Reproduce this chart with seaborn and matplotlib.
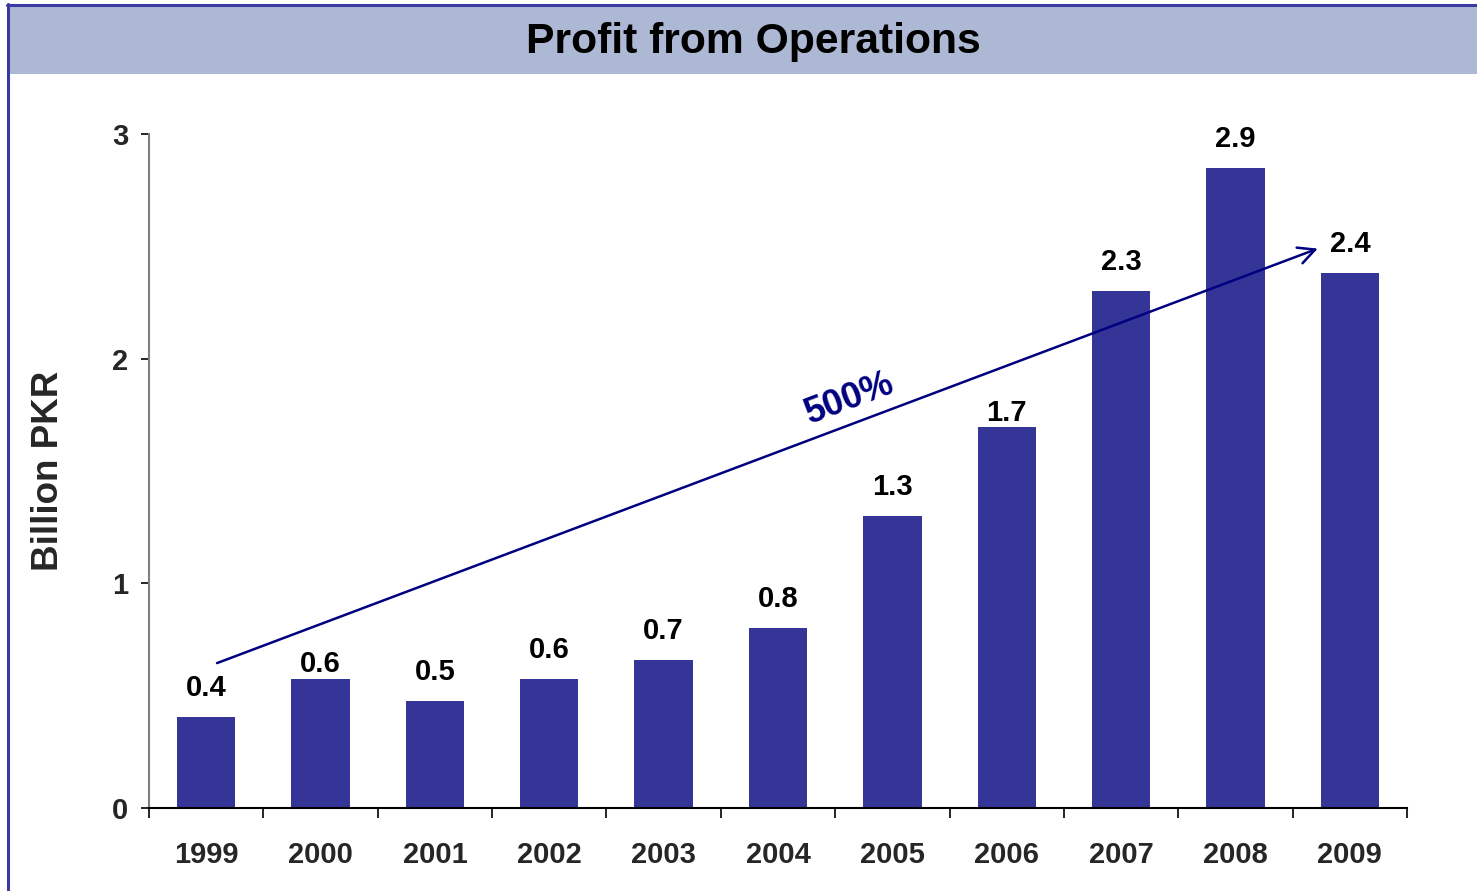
import matplotlib
matplotlib.use("Agg")
import matplotlib.pyplot as plt
import seaborn as sns
import pandas as pd
from matplotlib.patches import Rectangle
from matplotlib.lines import Line2D
from matplotlib.ticker import FixedLocator

# ---- data ----
years = ["1999", "2000", "2001", "2002", "2003", "2004", "2005", "2006", "2007", "2008", "2009"]
profit = [0.405, 0.574, 0.476, 0.574, 0.659, 0.80, 1.30, 1.696, 2.30, 2.848, 2.381]
value_labels = ["0.4", "0.6", "0.5", "0.6", "0.7", "0.8", "1.3", "1.7", "2.3", "2.9", "2.4"]
label_offsets_pt = [21, 11, 21, 21, 21, 21, 21, 10, 21, 21, 21]
y_ticks = [0, 1, 2, 3]
title_text = "Profit from Operations"
y_title = "Billion PKR"
growth_text = "500%"
arrow_start = (0.095, 0.645)
arrow_end = (9.72, 2.49)

sns.set_style("white")
plt.rcParams["font.family"] = ["Liberation Sans", "DejaVu Sans"]
plt.rcParams["font.weight"] = "bold"

df = pd.DataFrame({"year": years, "profit": profit})

fig = plt.figure(figsize=(14.77, 8.91), dpi=100)
fig.patch.set_facecolor("white")
ax = fig.add_axes([149/1477, (891-808)/891, (1407-149)/1477, (808-134)/891])

sns.barplot(data=df, x="year", y="profit", color="#353598", saturation=1,
            width=0.51, ax=ax, edgecolor="none")

ax.set_xlim(-0.5, len(years) - 0.5)
ax.set_ylim(0, 3)
ax.set_yticks(y_ticks)
ax.set_yticklabels([str(t) for t in y_ticks], fontsize=21, fontweight="bold")
ax.set_xticks(range(len(years)))
ax.set_xticklabels(years, fontsize=21, fontweight="bold")
ax.xaxis.set_minor_locator(FixedLocator([i - 0.5 for i in range(len(years) + 1)]))
ax.tick_params(axis="x", which="major", length=0, pad=24)
ax.tick_params(axis="x", which="minor", length=7, width=1.2, color="black", direction="out", bottom=True)
ax.tick_params(axis="y", which="major", length=6, width=1.2, color="black", direction="out", pad=9, left=True)

ax.set_xlabel("")
ax.set_ylabel(y_title, fontsize=26.5, fontweight="bold", labelpad=33)

for s in ["top", "right"]:
    ax.spines[s].set_visible(False)
ax.spines["left"].set_color("#808080")
ax.spines["left"].set_linewidth(1.5)
ax.spines["bottom"].set_color("black")
ax.spines["bottom"].set_linewidth(1.5)

for i, (v, lab, off) in enumerate(zip(profit, value_labels, label_offsets_pt)):
    ax.annotate(lab, (i, v), xytext=(0, off), textcoords="offset points",
                ha="center", va="center", fontsize=21, fontweight="bold", color="black")

ax.annotate("", xy=arrow_end, xytext=arrow_start,
            arrowprops=dict(arrowstyle="->", color="#000080", lw=1.8,
                            mutation_scale=30, shrinkA=0, shrinkB=0))
ax.text(5.68, 1.75, growth_text, rotation=20.7, rotation_mode="anchor",
        ha="center", va="bottom", fontsize=26, fontweight="bold", color="#000080")

# banner and border
fig.patches.append(Rectangle((9/1477, (891-74)/891), 1 - 9/1477, 68/891,
                             transform=fig.transFigure, facecolor="#ADB8D5",
                             edgecolor="none", zorder=0))
fig.lines.append(Line2D([8/1477, 8/1477], [0, (891-4)/891], transform=fig.transFigure,
                        color="#3A3AA0", lw=2.2))
fig.lines.append(Line2D([7/1477, 1], [(891-5)/891, (891-5)/891], transform=fig.transFigure,
                        color="#3A3AA0", lw=2.2))
fig.text(753/1477, (891-42)/891, title_text, ha="center", va="center",
         fontsize=30.7, fontweight="bold", color="black")

fig.savefig("out.png", dpi=100)
